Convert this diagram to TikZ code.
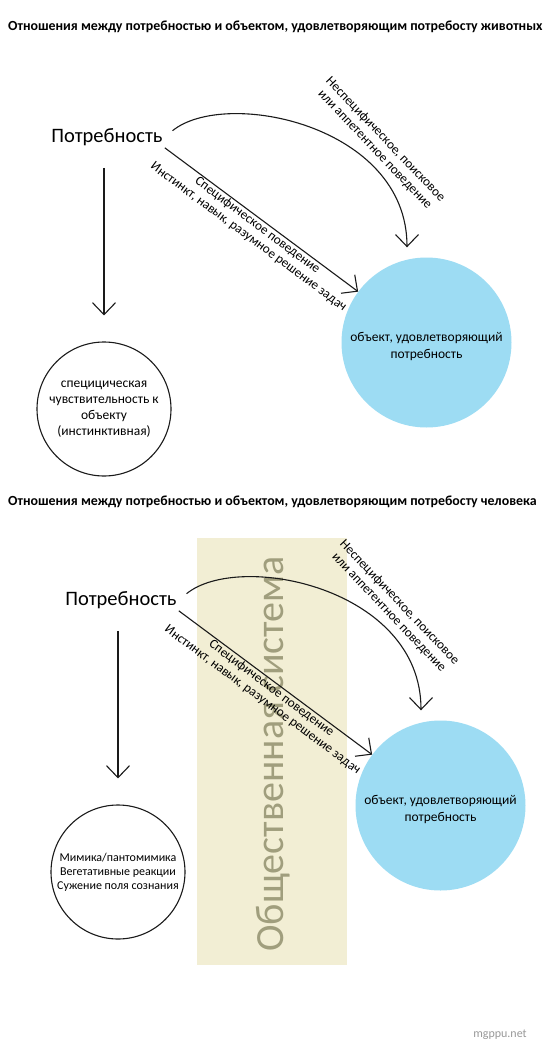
\documentclass[tikz,border=0pt]{standalone}
\usepackage{fontspec}
\setmainfont{Carlito}
\usetikzlibrary{arrows.meta}
\definecolor{objblue}{HTML}{9DDCF3}
\definecolor{beige}{HTML}{F2EED4}
\definecolor{socgray}{HTML}{A09E7D}
\definecolor{linec}{HTML}{1A1A1A}
\tikzset{
  arr/.style={draw=linec, line width=1.1pt, -{Straight Barb[length=12pt,width=23pt,line width=1.1pt]}},
  titletext/.style={font=\fontsize{13.9}{16}\selectfont\bfseries, anchor=west, inner sep=0pt},
  needtext/.style={font=\fontsize{20.5}{24}\selectfont, inner sep=2pt},
  labtext/.style={font=\fontsize{13.2}{14.5}\selectfont, align=center, inner sep=1pt},
  objcircle/.style={circle, fill=objblue, minimum size=170pt, inner sep=0pt},
  objtext/.style={align=center, inner sep=0pt, font=\fontsize{13.5}{16.5}\selectfont},
  sencircle/.style={circle, draw=linec, line width=1.1pt, minimum size=134pt, inner sep=0pt, align=center},
}
\begin{document}
\begin{tikzpicture}[x=1pt,y=-1pt]
\useasboundingbox (0,0) rectangle (550,1055);
\fill[white] (0,0) rectangle (550,1055);

% ---------- top: animals ----------
\node[titletext] (title1) at (8,27) {Отношения между потребностью и объектом, удовлетворяющим потребосту животных};
\begin{scope}
\node[needtext] (need1) at (107,137) {Потребность};
\node[objcircle] (obj1) at (426.5,342.5) {};
\node[objtext] (objt1) at ([yshift=-4pt]obj1.center) {объект, удовлетворяющий\\ потребность};
\node[sencircle, font=\fontsize{13.5}{16}\selectfont] (sen1) at (104,409) {специцическая\\ чувствительность к\\ объекту\\ (инстинктивная)};
\draw[arr, shorten <=20pt, shorten >=26pt] (need1.south -| sen1.north) -- (sen1.north);
\draw[arr] (need1.south east) -- (obj1)
  node[pos=0.5, sloped, below, labtext] (lab1b) {Специфическое поведение\\ Инстинкт, навык, разумное решение задач};
\draw[arr, shorten <=10pt, shorten >=10pt] (need1.east) .. controls (225,88) and ([xshift=-19.5pt, yshift=132.5pt]obj1.north) .. ([xshift=-19.5pt]obj1.north);
\node[labtext, rotate=-46.5] (lab1a) at (380,144.5) {Неспецифическое, поисковое\\ или аппетентное поведение};
\end{scope}

% ---------- bottom: humans ----------
\node[titletext] (title2) at (8,502) {Отношения между потребностью и объектом, удовлетворяющим потребосту человека};
\fill[beige] (197,538) rectangle (347,965);
\node[rotate=90, text=socgray, font=\fontsize{40}{44}\selectfont, inner sep=0pt] (soc) at (273,754) {Общественная система};
\begin{scope}[shift={(14,463)}]
\node[needtext] (need2) at (107,137) {Потребность};
\node[objcircle] (obj2) at (426.5,342.5) {};
\node[objtext] (objt2) at ([yshift=-4pt]obj2.center) {объект, удовлетворяющий\\ потребность};
\node[sencircle, font=\fontsize{12}{14}\selectfont] (sen2) at (104,409) {Мимика/пантомимика\\ Вегетативные реакции\\ Сужение поля сознания};
\draw[arr, shorten <=20pt, shorten >=26pt] (need2.south -| sen2.north) -- (sen2.north);
\draw[arr] (need2.south east) -- (obj2)
  node[pos=0.5, sloped, below, labtext] (lab2b) {Специфическое поведение\\ Инстинкт, навык, разумное решение задач};
\draw[arr, shorten <=10pt, shorten >=10pt] (need2.east) .. controls (225,88) and ([xshift=-19.5pt, yshift=132.5pt]obj2.north) .. ([xshift=-19.5pt]obj2.north);
\node[labtext, rotate=-46.5] (lab2a) at (380,144.5) {Неспецифическое, поисковое\\ или аппетентное поведение};
\end{scope}

\node[text=gray!80, font=\fontsize{12}{14}\selectfont] (wm) at (500,1035) {mgppu.net};
\end{tikzpicture}
\end{document}
